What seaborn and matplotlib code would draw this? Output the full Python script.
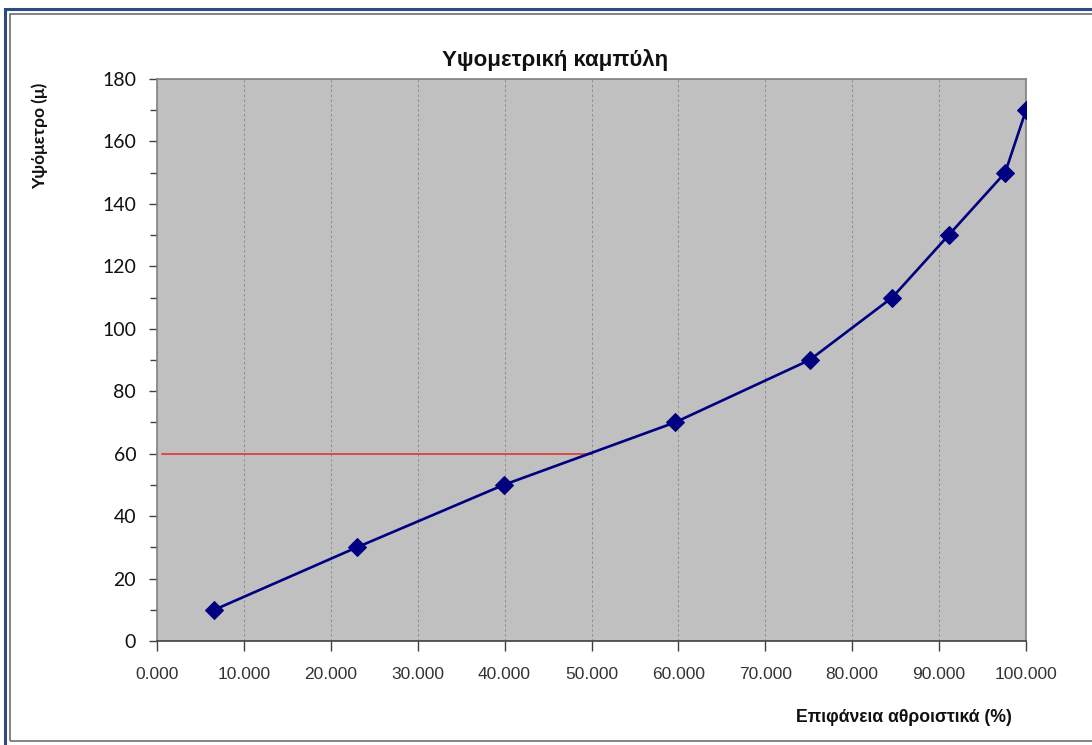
import matplotlib
matplotlib.use("Agg")
import matplotlib.pyplot as plt
import seaborn as sns
import pandas as pd
from matplotlib.patches import Rectangle
from matplotlib.ticker import MultipleLocator, FuncFormatter

# Data
area_cum = [6.6, 23.0, 39.9, 59.6, 75.1, 84.6, 91.1, 97.6, 100.0]
altitude = [10, 30, 50, 70, 90, 110, 130, 150, 170]
ref_x = [0.6, 50.0]
ref_y = [60, 60]
title = "Υψομετρική καμπύλη"
xlabel = "Επιφάνεια αθροιστικά (%)"
ylabel = "Υψόμετρο (μ)"

df = pd.DataFrame({"x": area_cum, "y": altitude})

sns.set_theme(style="white")
plt.rcParams["font.family"] = ["Liberation Sans", "DejaVu Sans"]

W, H = 1092, 745
fig = plt.figure(figsize=(W / 100, H / 100), dpi=100)
ax = fig.add_axes([157 / W, 1 - 641 / H, (1026 - 157) / W, (641 - 79) / H])
ax.set_facecolor("#C0C0C0")

# Outer frame
fig.patches.append(Rectangle((5 / W, -0.05), 1.2, (H - 9) / H + 0.05, transform=fig.transFigure,
                             fill=False, edgecolor="#2E4A86", linewidth=2.2, zorder=0))
fig.patches.append(Rectangle((9.5 / W, 1 - 741 / H), 1.2, (741 - 13.5) / H, transform=fig.transFigure,
                             fill=False, edgecolor="#6E6E6E", linewidth=1.2, zorder=0))

ax.plot(ref_x, ref_y, color="#E0403C", linewidth=1.3, zorder=2)
sns.lineplot(data=df, x="x", y="y", ax=ax, color="#000080", linewidth=1.9,
             marker="D", markersize=9, markeredgecolor="#000080", sort=False, zorder=3)

ax.set_xlim(0, 100)
ax.set_ylim(0, 180)
ax.xaxis.set_major_locator(MultipleLocator(10))
ax.yaxis.set_major_locator(MultipleLocator(20))
ax.yaxis.set_minor_locator(MultipleLocator(10))
ax.xaxis.set_major_formatter(FuncFormatter(lambda v, p: f"{v:.3f}"))

for xv in range(10, 100, 10):
    ax.axvline(xv, color="#8C8C8C", linestyle=(0, (2.5, 2.5)), linewidth=0.7, zorder=1)

for s in ax.spines.values():
    s.set_color("#808080")
    s.set_linewidth(1.2)
ax.spines["bottom"].set_color("#404040")

ax.tick_params(axis="x", which="major", direction="out", length=7, width=1, color="#404040",
               pad=12, labelsize=12.5, labelcolor="#333333", bottom=True)
ax.tick_params(axis="y", which="major", direction="out", length=6, width=1, color="#404040",
               pad=9, labelsize=14, labelcolor="#111111", left=True)
ax.tick_params(axis="y", which="minor", direction="out", length=5, width=1, color="#404040", left=True)
for lbl in ax.get_yticklabels():
    lbl.set_fontfamily(["Lato", "DejaVu Sans"])

ax.set_xlabel("")
ax.set_ylabel("")
fig.text(555 / W, 1 - 60 / H, title, ha="center", va="center", fontsize=16, fontweight="bold",
         color="#111111")
fig.text(1012 / W, 1 - 717 / H, xlabel, ha="right", va="center", fontsize=12.7, fontweight="bold",
         color="#111111")
fig.text(40 / W, 1 - 136 / H, ylabel, ha="center", va="center", rotation=90, fontsize=12.5,
         fontweight="bold", color="#111111", family=["Lato", "DejaVu Sans"])

fig.savefig("out.png", dpi=100)
